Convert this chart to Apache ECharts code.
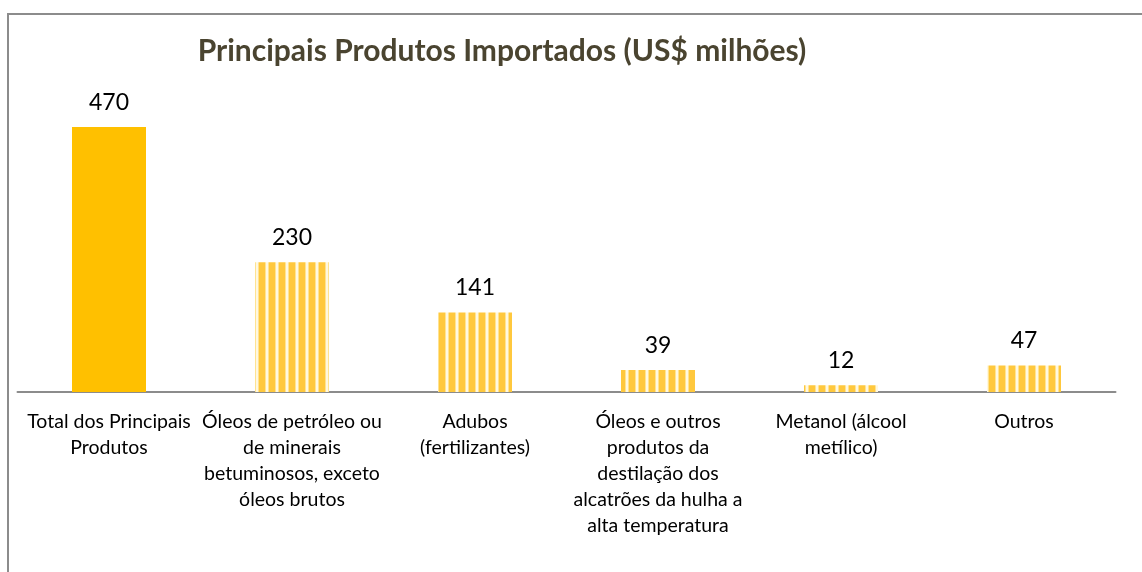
<!DOCTYPE html>
<html>
<head>
<meta charset="utf-8">
<script src="https://cdn.jsdelivr.net/npm/echarts@6/dist/echarts.min.js"></script>
<style>
  html, body { margin: 0; padding: 0; background: #fff; }
  #main { width: 1142px; height: 572px; }
</style>
</head>
<body>
<div id="main"></div>
<script>
// categorias (rótulos com quebras como no gráfico original)
const categorias = [
  "Total dos Principais\nProdutos",
  "Óleos de petróleo ou\nde minerais\nbetuminosos, exceto\nóleos brutos",
  "Adubos\n(fertilizantes)",
  "Óleos e outros\nprodutos da\ndestilação dos\nalcatrões da hulha a\nalta temperatura",
  "Metanol (álcool\nmetílico)",
  "Outros"
];
const valores = [470, 230, 141, 39, 12, 47];

// padrão listrado vertical para as barras de produtos
function listras() {
  const c = document.createElement("canvas");
  c.width = 10; c.height = 10;
  const ctx = c.getContext("2d");
  ctx.fillStyle = "#FFC83D";
  ctx.fillRect(0, 0, 10, 10);
  ctx.fillStyle = "#FFE391";
  ctx.fillRect(5, 0, 1, 10);
  ctx.fillRect(8, 0, 1, 10);
  ctx.fillStyle = "#FFF8E0";
  ctx.fillRect(6, 0, 2, 10);
  return c;
}
const padrao = { image: listras(), repeat: "repeat" };

const myChart = echarts.init(document.getElementById("main"));
const option = {
  animation: false,
  title: {
    text: "Principais Produtos Importados (US$ milhões)",
    left: 497,
    textAlign: "center",
    top: 31,
    textStyle: {
      fontFamily: "Lato",
      fontSize: 30,
      fontWeight: "bold",
      color: "#4A4430"
    }
  },
  graphic: [
    {
      type: "rect",
      shape: { x: 8, y: 14, width: 1300, height: 700 },
      style: { fill: "none", stroke: "#8C8C8C", lineWidth: 2 },
      silent: true
    }
  ],
  grid: { left: 17.5, right: 26.5, top: 110, bottom: 180 },
  xAxis: {
    type: "category",
    data: categorias,
    axisLine: { lineStyle: { color: "#8C8C8C", width: 2 } },
    axisTick: { show: false },
    axisLabel: {
      interval: 0,
      margin: 17,
      fontFamily: "Lato",
      fontSize: 19.5,
      lineHeight: 26,
      color: "#000"
    }
  },
  yAxis: {
    type: "value",
    min: 0,
    max: 500,
    show: false,
    splitLine: { show: false }
  },
  series: [
    {
      type: "bar",
      barWidth: 74,
      data: valores.map((v, i) => ({
        value: v,
        itemStyle: { color: i === 0 ? "#FFC000" : padrao }
      })),
      label: {
        show: true,
        position: "top",
        distance: 13,
        fontFamily: "Lato",
        fontSize: 23,
        color: "#000"
      }
    }
  ]
};
myChart.setOption(option);
</script>
</body>
</html>
